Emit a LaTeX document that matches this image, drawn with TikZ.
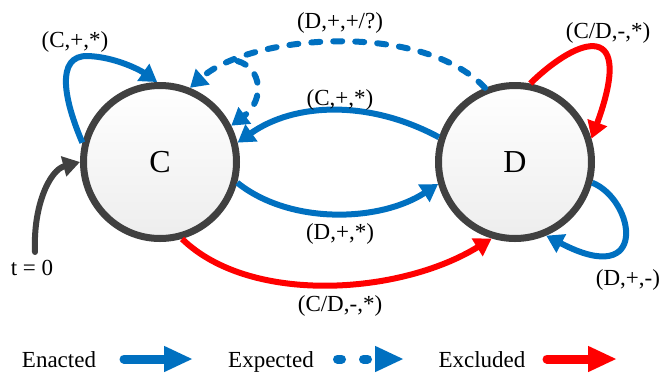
\documentclass[tikz,border=0pt]{standalone}
\usepackage{fontspec}
\setmainfont{Liberation Serif}
\usetikzlibrary{arrows.meta}
\definecolor{myblue}{HTML}{0070C0}
\definecolor{myred}{HTML}{FF0000}
\definecolor{mygray}{HTML}{404040}
\begin{document}
\begin{tikzpicture}[x=1pt,y=-1pt,
  state/.style={circle, draw=mygray, line width=7pt, minimum size=153pt, inner sep=0pt,
    top color=white, bottom color=gray!14, font=\fontsize{32}{36}\selectfont},
  lbl/.style={font=\fontsize{23}{27}\selectfont, inner sep=0pt},
  conn/.style={line width=6pt, -{Triangle[length=17pt,width=20pt]}},
  enacted/.style={conn, draw=myblue},
  expected/.style={conn, draw=myblue, line cap=round, dash pattern=on 9pt off 13pt},
  excluded/.style={conn, draw=myred},
  start/.style={conn, draw=mygray, line cap=round},
  legarrow/.style={line width=9pt, line cap=round, -{Triangle[length=29pt,width=24pt]}}
]
\useasboundingbox (0,0) rectangle (662,373);

\node[state] (C) at (160,162) {C};
\node[state] (D) at (515,162) {D};

% self loop on C
\draw[enacted] (C.166) .. controls (64,100) and (55,55) .. (88,56)
  .. controls (115,57) and (140,70) .. (C.92);
% expected
\draw[expected] (D.112) .. controls (420,20) and (250,35) .. coordinate[pos=0.8] (split) (C.68);
\draw[expected] (split) .. controls (262,68) and (265,100) .. (C.27);
% C,+,* from D to C
\draw[enacted] (D.162) .. controls (370,100) and (295,102) .. (C.14);
% D,+,* from C to D
\draw[enacted] (C.-15) .. controls (290,225) and (380,222) .. (D.196);
% excluded C to D
\draw[excluded] (C.-74) .. controls (250,305) and (400,295) .. (D.-107);
% excluded loop on D
\draw[excluded] (D.79) .. controls (580,35) and (635,20) .. (D.17);
% enacted loop on D
\draw[enacted] (D.-15) .. controls (635,200) and (650,290) .. (D.-67);
% start arrow
\node[lbl] (t0) at (32,268) {t = 0};
\coordinate (t0s) at (35,252);
\draw[start] (t0s) .. controls (33,205) and (50,170) .. (C.180);

% labels
\node[lbl] (l1) at (75,42) {(C,+,*)};
\node[lbl] (l2) at (340,23) {(D,+,+/?)};
\node[lbl] (l3) at (340,100) {(C,+,*)};
\node[lbl] (l4) at (608,33) {(C/D,-,*)};
\node[lbl] (l5) at (340,234) {(D,+,*)};
\node[lbl] (l6) at (340,306) {(C/D,-,*)};
\node[lbl] (l7) at (628,280) {(D,+,-)};

% legend
\node[lbl, anchor=base] (g1) at (59,367) {Enacted};
\node[lbl, anchor=base] (g2) at (271,367) {Expected};
\node[lbl, anchor=base] (g3) at (482,367) {Excluded};
\coordinate (a1s) at (124,359); \coordinate (a1e) at (193,359);
\coordinate (a2s) at (337.5,359); \coordinate (a2e) at (404,359);
\coordinate (a3s) at (547,359); \coordinate (a3e) at (617,359);
\draw[legarrow, myblue] (a1s) -- (a1e);
\draw[legarrow, myblue, dash pattern=on 4pt off 22pt] (a2s) -- (a2e);
\draw[legarrow, myred] (a3s) -- (a3e);
\end{tikzpicture}
\end{document}
